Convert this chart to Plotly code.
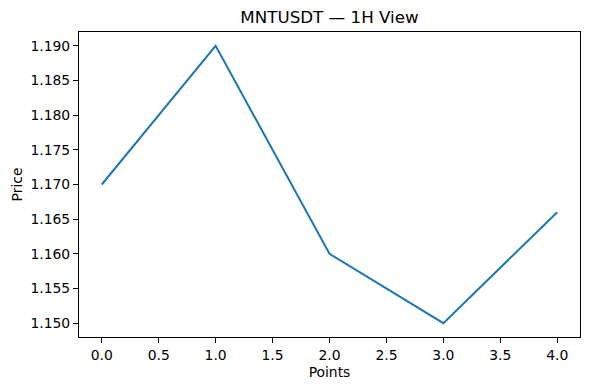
import plotly.graph_objects as go

points = [0, 1, 2, 3, 4]
prices = [1.170, 1.190, 1.160, 1.150, 1.166]
x_ticks = [0.0, 0.5, 1.0, 1.5, 2.0, 2.5, 3.0, 3.5, 4.0]
y_ticks = [1.150, 1.155, 1.160, 1.165, 1.170, 1.175, 1.180, 1.185, 1.190]

fig = go.Figure()
fig.add_trace(go.Scatter(x=points, y=prices, mode="lines",
                         line=dict(color="#1f77b4", width=2)))

font = "DejaVu Sans"
fig.update_layout(
    width=590, height=390,
    margin=dict(l=79, r=10, t=32, b=53),
    paper_bgcolor="white", plot_bgcolor="white",
    showlegend=False,
    font=dict(family=font, size=13.9, color="black"),
    title=dict(text="MNTUSDT — 1H View", x=(79 + 580) / 2 / 590, xanchor="center",
               y=1 - 17 / 390, yanchor="middle",
               font=dict(family=font, size=16.7, color="black")),
)
axis_common = dict(showline=True, linecolor="black", linewidth=1, mirror=True,
                   ticks="outside", ticklen=5, tickwidth=1, tickcolor="black",
                   showgrid=False, zeroline=False,
                   tickfont=dict(family=font, size=13.9, color="black"))
fig.update_xaxes(range=[-0.2, 4.2], tickvals=x_ticks,
                 ticktext=[f"{v:.1f}" for v in x_ticks],
                 title=dict(text="Points", standoff=5,
                            font=dict(family=font, size=13.9)), **axis_common)
fig.update_yaxes(range=[1.148, 1.192], tickvals=y_ticks,
                 ticktext=[f"{v:.3f}" for v in y_ticks],
                 title=dict(text="Price", standoff=4,
                            font=dict(family=font, size=13.9)), **axis_common)

fig.write_html("out.html")
